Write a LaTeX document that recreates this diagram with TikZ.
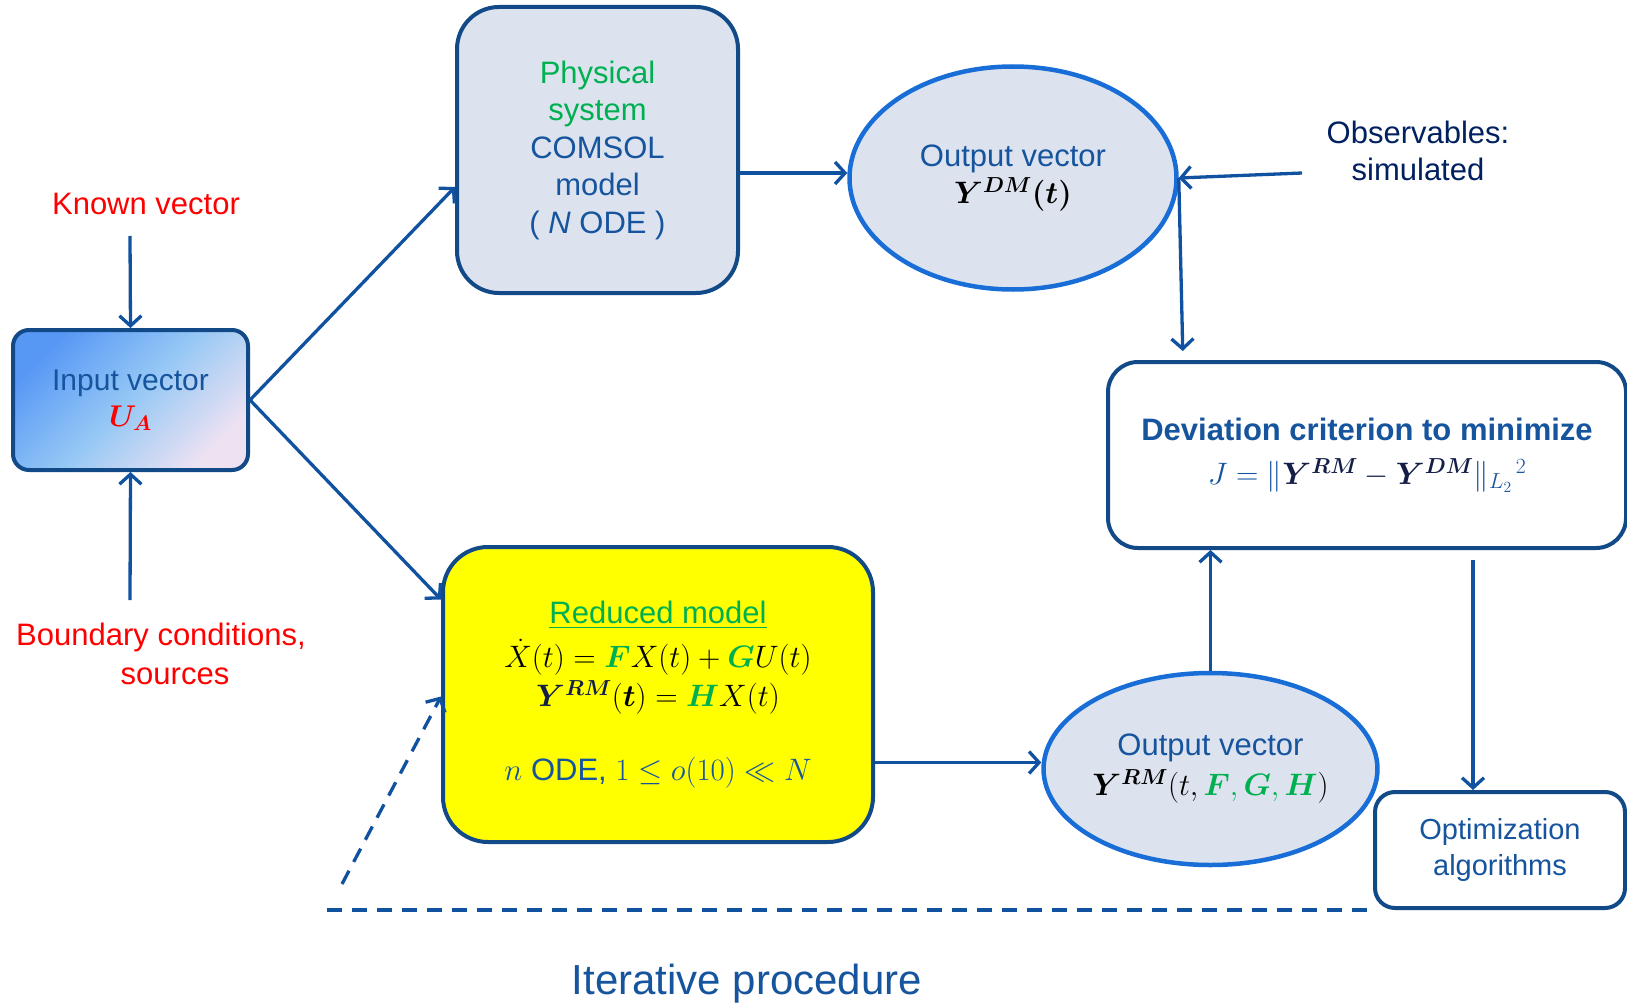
\RequirePackage{fix-cm}
\documentclass[tikz,border=0pt]{standalone}
\usepackage{fontspec}
\setmainfont{Liberation Sans}
\usepackage{amsmath}
\usepackage{bm}
\usetikzlibrary{shapes.geometric,arrows.meta,calc}
\definecolor{lnblue}{RGB}{16,82,160}
\definecolor{bxblue}{RGB}{18,74,136}
\definecolor{elblue}{RGB}{24,110,214}
\definecolor{txblue}{RGB}{22,84,158}
\definecolor{fillg}{RGB}{220,227,239}
\definecolor{ogreen}{RGB}{0,176,80}
\definecolor{navy}{RGB}{0,32,96}
\definecolor{ymath}{RGB}{20,30,70}
\definecolor{gradA}{RGB}{88,152,245}
\definecolor{gradB}{RGB}{150,200,245}
\definecolor{gradC}{RGB}{238,226,242}
\definecolor{redtxt}{RGB}{255,0,0}
\definecolor{yel}{RGB}{255,255,0}
\begin{document}
\begin{tikzpicture}[x=1pt,y=-1pt,
  arr/.style={draw=lnblue, line width=3.3pt, -{Straight Barb[length=10pt,width=22pt,line width=3.3pt]}},
  dashln/.style={draw=lnblue, line width=3.3pt, dash pattern=on 15pt off 10pt},
  box/.style={draw=bxblue, line width=4pt, align=center, inner sep=0pt},
  ell/.style={ellipse, draw=elblue, line width=4.5pt, fill=fillg, inner sep=0pt, align=center},
  lbl/.style={align=center, inner sep=0pt}
]
\useasboundingbox (0,0) rectangle (1627,1006);

% nodes
\node[box, rounded corners=16pt, minimum width=235pt, minimum height=140pt,
      top color=gradA, bottom color=gradC, middle color=gradB, shading angle=45,
      text=txblue, font=\fontsize{30}{38}\selectfont] (in) at (130.5,400)
      {Input vector\\[-2pt]$\color{redtxt}\bm{U_A}$};

\node[box, fill=fillg, rounded corners=42pt, minimum width=281pt, minimum height=286pt,
      text=txblue, font=\fontsize{31}{37.5}\selectfont] (phys) at (597.5,150)
      {{\color{ogreen}Physical}\\{\color{ogreen}system}\\COMSOL\\model\\( \textit{N} ODE )};

\node[ell, minimum width=327pt, minimum height=223pt, text=txblue,
      font=\fontsize{31}{37}\selectfont] (dm) at (1013,178)
      {Output vector\\{\color{black}$\bm{Y^{DM}(t)}$}};

\node[box, rounded corners=30pt, minimum width=518pt, minimum height=186pt,
      text=txblue, font=\fontsize{31}{44}\selectfont] (dev) at (1367,455)
      {\textbf{Deviation criterion to minimize}\\
       $J = \| {\color{ymath}\bm{Y^{RM}} - \bm{Y^{DM}}} \|_{L_2}{}^{\,2}$};

\node[box, fill=yel, rounded corners=45pt, minimum width=430pt, minimum height=295pt,
      text=black, font=\fontsize{31}{39.5}\selectfont] (red) at (658,694.5)
      {{\color{ogreen}\underline{Reduced model}}\\[4pt]
       $\dot{X}(t) = {\color{ogreen}\bm{F}}X(t) + {\color{ogreen}\bm{G}}U(t)$\\
       ${\color{ymath}\bm{Y^{RM}}}(\bm{t}) = {\color{ogreen}\bm{H}}X(t)$\\[34pt]
       {\color{txblue}$n$ ODE, $1 \leq o(10) \ll N$}};

\node[ell, minimum width=329pt, minimum height=192pt, text=txblue,
      font=\fontsize{31}{40}\selectfont] (rm) at (1210.5,769)
      {Output vector\\{\color{black}$\bm{Y^{RM}}(t,{\color{ogreen}\bm{F},\bm{G},\bm{H}})$}};

\node[box, rounded corners=20pt, minimum width=250pt, minimum height=116pt,
      text=txblue, font=\fontsize{29}{36}\selectfont] (opt) at (1500,850)
      {Optimization\\algorithms};

% labels
\node[lbl, text=redtxt, font=\fontsize{31}{38}\selectfont] (kv) at (146,204) {Known vector};
\node[lbl, text=redtxt, font=\fontsize{31}{39}\selectfont] (bc) at (161,654)
      {Boundary conditions,\\\hspace*{28pt}sources};
\node[lbl, text=navy, font=\fontsize{31}{37}\selectfont] (obs) at (1418,151)
      {Observables:\\simulated};
\node[lbl, text=txblue, font=\fontsize{42}{50}\selectfont] (iter) at (747,984)
      {Iterative procedure};

% free ends
\coordinate (kvend) at (130,236);
\coordinate (bcend) at (130,600);
\coordinate (obsend) at (1302,173);
\coordinate (dsh) at (342,884);
\coordinate (dh) at (327,910);

% connectors
\draw[arr] (kvend) -- (in.north);
\draw[arr] (bcend) -- (in.south);
\draw[arr] (in.east) -- ([yshift=-37pt]phys.west);
\draw[arr] (in.east) -- ([yshift=95pt]red.west);
\draw[arr] ([yshift=-23pt]phys.east) -- ([yshift=-23pt]phys.east -| dm.west);
\draw[arr] (obsend) -- (dm.east);
\draw[arr] (dm.east) -- ([xshift=4pt,yshift=9pt]dm.east |- dev.north);
\draw[arr] (rm.north) -- (rm.north |- dev.south);
\draw[arr, shorten <=10pt] ([xshift=106pt]dev.south) -- ([xshift=106pt]dev.south |- opt.north);
\draw[arr] ([yshift=-68pt]red.east) -- ([yshift=-68pt]red.east -| rm.west);
\draw[arr, dash pattern=on 15pt off 10pt] (dsh) -- ([yshift=-2pt]red.west);
\draw[dashln] (dh) -- (dh -| opt.west);
\end{tikzpicture}
\end{document}
